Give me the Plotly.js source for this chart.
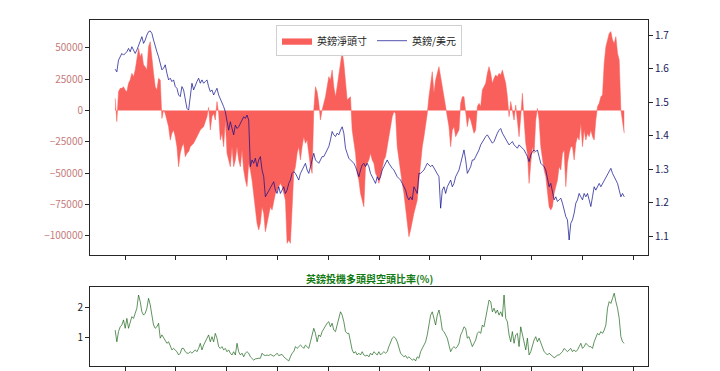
<!DOCTYPE html>
<html>
<head>
<meta charset="utf-8">
<script src="https://cdn.plot.ly/plotly-3.0.1.min.js"></script>
<style>html,body{margin:0;padding:0;background:#fff;}#chart{width:720px;height:371px;}</style>
</head>
<body>
<div id="chart"></div>
<script>
// Sampling of the series: one reading about every 12 days, from late Oct 2013 to Oct 2023
const startDate = '2013-10-21';
const stepDays = 12;

// GBP speculative net position (contracts)
const netPosition = [
  9700, -8900, 15000, 17700, 17700, 19000, 16400, 15000, 21700, 24400,
  29700, 27000, 32300, 40300, 49600, 43000, 45700, 36300, 35000, 32300,
  51000, 55000, 40300, 29700, 19000, 16400, 25700, 24400, -6300, 400,
  -2300, -7600, -12900, -23600, -18200, -15600, -20900, -28900, -44900, -34200,
  -28900, -26200, -36900, -34200, -32900, -28900, -27600, -26200, -23600, -20900,
  -18200, -15600, -14200, -12900, -8900, -4900, 2500, -15600, -4900, -2300,
  -7600, 7100, -2300, -23600, -18200, -28900, -7600, -34200, -39500, -44900,
  -28900, -44900, -39500, -28900, -39500, -44900, -31500, -47500, -55500, -60800,
  -42200, -47500, -55500, -66200, -76800, -90100, -95400, -90100, -76800, -82100,
  -96800, -90100, -84800, -76800, -79500, -71500, -66200, -63500, -60800, -58200,
  -60800, -66200, -71500, -106100, -103400, -106100, -76800, -50200, -44900, -34200,
  -28900, -39500, -28900, -20900, -26200, -23600, -34200, -44900, -50200, 400,
  19000, 15000, 5700, -7600, 400, 5700, 11000, 19000, 27000, 24400,
  32300, 19000, 11000, 19000, 29700, 40300, 47000, 37700, 19000, 8400,
  9700, 11000, -15600, -26200, -34200, -50200, -55500, -66200, -71500, -76800,
  -44900, -42200, -39500, -34200, -39500, -42200, -50200, -52800, -58200, -52800,
  -44900, -39500, -36900, -28900, -18200, -10200, -4900, -900, -2300, -28900,
  -39500, -50200, -58200, -66200, -76800, -87400, -100800, -95400, -87400, -82100,
  -76800, -71500, -55500, -39500, -28900, -20900, -12900, -2300, 11000, 21700,
  31000, 13700, 24400, 29700, 35000, 27000, 19000, 8400, 400, -7600,
  -12900, -28900, -15600, -12900, -20900, -18200, -15600, 5700, 11000, 11000,
  400, -12900, -4900, -7600, -12900, -18200, -15600, 3100, 5700, 3100,
  16400, 19000, 21700, 29700, 35000, 29700, 21700, 25700, 28400, 27000,
  29700, 28400, 32300, 27000, 21700, 11000, -4900, 7100, -2300, -7600,
  4400, -7600, -20900, -4900, 13700, -7600, -26200, -34200, -58200, -42200,
  -28900, -34200, -7600, 1700, -7600, -28900, -39500, -47500, -52800, -66200,
  -76800, -79500, -76800, -66200, -60800, -55500, -44900, -47500, -34200, -31500,
  -60800, -42200, -34200, -28900, -28900, -39500, -26200, -20900, -23600, -10200,
  -28900, -15600, -23600, -18200, -20900, -15600, -20900, -23600, -7600, 3100,
  5700, 11000, 12400, 37700, 51000, 56300, 61600, 63000, 56300, 53600,
  59000, 45700, 40300, 400, -7600, -18200
];

// GBP/USD exchange rate
const gbpUsd = [
  1.598, 1.590, 1.625, 1.635, 1.645, 1.640, 1.645, 1.650, 1.660, 1.650,
  1.665, 1.655, 1.645, 1.655, 1.670, 1.680, 1.695, 1.675, 1.685, 1.700,
  1.710, 1.712, 1.705, 1.685, 1.665, 1.650, 1.635, 1.615, 1.596, 1.601,
  1.611, 1.586, 1.566, 1.571, 1.561, 1.566, 1.546, 1.541, 1.521, 1.516,
  1.546, 1.536, 1.506, 1.481, 1.476, 1.516, 1.556, 1.536, 1.551, 1.561,
  1.571, 1.556, 1.566, 1.556, 1.561, 1.566, 1.546, 1.531, 1.536, 1.521,
  1.531, 1.541, 1.521, 1.511, 1.501, 1.486, 1.471, 1.446, 1.416, 1.441,
  1.416, 1.402, 1.431, 1.421, 1.426, 1.436, 1.446, 1.456, 1.451, 1.461,
  1.446, 1.307, 1.327, 1.317, 1.332, 1.307, 1.327, 1.337, 1.297, 1.277,
  1.217, 1.227, 1.237, 1.247, 1.257, 1.262, 1.237, 1.227, 1.247, 1.227,
  1.237, 1.247, 1.227, 1.237, 1.257, 1.267, 1.287, 1.292, 1.287, 1.277,
  1.267, 1.287, 1.297, 1.307, 1.317, 1.297, 1.287, 1.307, 1.327, 1.347,
  1.327, 1.322, 1.317, 1.327, 1.337, 1.337, 1.347, 1.357, 1.367, 1.387,
  1.412, 1.402, 1.397, 1.407, 1.402, 1.416, 1.426, 1.407, 1.362, 1.347,
  1.332, 1.327, 1.322, 1.317, 1.307, 1.292, 1.277, 1.297, 1.312, 1.317,
  1.307, 1.317, 1.307, 1.287, 1.277, 1.267, 1.257, 1.277, 1.267, 1.277,
  1.297, 1.307, 1.317, 1.327, 1.317, 1.307, 1.302, 1.297, 1.287, 1.277,
  1.272, 1.267, 1.257, 1.247, 1.237, 1.217, 1.208, 1.217, 1.208, 1.247,
  1.237, 1.227, 1.287, 1.287, 1.292, 1.297, 1.307, 1.317, 1.312, 1.307,
  1.312, 1.302, 1.297, 1.287, 1.277, 1.183, 1.237, 1.247, 1.227, 1.247,
  1.257, 1.267, 1.247, 1.257, 1.277, 1.287, 1.297, 1.317, 1.337, 1.357,
  1.327, 1.287, 1.297, 1.307, 1.327, 1.327, 1.337, 1.347, 1.357, 1.372,
  1.382, 1.387, 1.397, 1.402, 1.392, 1.382, 1.377, 1.382, 1.397, 1.407,
  1.416, 1.421, 1.407, 1.397, 1.392, 1.382, 1.372, 1.377, 1.382, 1.372,
  1.367, 1.362, 1.372, 1.367, 1.362, 1.357, 1.347, 1.337, 1.322, 1.342,
  1.352, 1.357, 1.352, 1.357, 1.337, 1.317, 1.312, 1.307, 1.297, 1.267,
  1.247, 1.257, 1.237, 1.208, 1.217, 1.203, 1.208, 1.213, 1.198, 1.178,
  1.158, 1.148, 1.088, 1.138, 1.148, 1.168, 1.198, 1.208, 1.227, 1.217,
  1.208, 1.227, 1.217, 1.227, 1.208, 1.188, 1.217, 1.247, 1.237, 1.247,
  1.257, 1.247, 1.257, 1.267, 1.277, 1.287, 1.297, 1.302, 1.287, 1.277,
  1.267, 1.257, 1.237, 1.217, 1.227, 1.217
];

// Speculative long / short ratio
const longShortRatio = [
  1.24, 0.85, 1.19, 1.35, 1.41, 1.58, 1.30, 1.63, 1.30, 1.52,
  1.69, 1.63, 1.85, 1.97, 2.41, 2.19, 1.85, 1.74, 1.80, 1.97,
  2.30, 2.08, 1.74, 1.41, 1.30, 1.35, 1.47, 0.97, 1.08, 0.97,
  0.91, 0.80, 0.85, 0.69, 0.58, 0.63, 0.58, 0.52, 0.41, 0.47,
  0.63, 0.63, 0.52, 0.47, 0.47, 0.52, 0.47, 0.52, 0.58, 0.52,
  0.63, 0.80, 0.58, 0.74, 0.85, 0.97, 1.08, 0.85, 1.02, 0.85,
  1.13, 0.97, 0.69, 0.63, 0.69, 0.58, 0.63, 0.52, 0.58, 0.47,
  0.41, 0.52, 0.41, 0.80, 0.52, 0.41, 0.47, 0.35, 0.47, 0.52,
  0.47, 0.35, 0.30, 0.24, 0.28, 0.30, 0.30, 0.30, 0.47, 0.41,
  0.39, 0.41, 0.39, 0.43, 0.41, 0.37, 0.41, 0.47, 0.39, 0.41,
  0.43, 0.35, 0.30, 0.24, 0.21, 0.35, 0.47, 0.52, 0.69, 0.63,
  0.69, 0.74, 0.69, 0.63, 0.74, 0.69, 0.63, 0.85, 1.08, 1.30,
  1.13, 0.85, 1.08, 1.02, 1.19, 1.30, 1.41, 1.47, 1.52, 1.35,
  1.47, 1.24, 1.19, 1.41, 1.63, 1.85, 1.74, 1.52, 1.19, 1.13,
  1.13, 0.80, 0.58, 0.47, 0.52, 0.41, 0.47, 0.41, 0.52, 0.41,
  0.38, 0.41, 0.35, 0.47, 0.41, 0.52, 0.47, 0.41, 0.52, 0.41,
  0.47, 0.52, 0.47, 0.52, 0.69, 0.85, 0.97, 1.02, 0.97, 0.85,
  0.63, 0.47, 0.41, 0.35, 0.39, 0.30, 0.35, 0.30, 0.24, 0.28,
  0.21, 0.35, 0.30, 0.52, 0.63, 0.74, 0.85, 1.08, 1.41, 1.74,
  1.85, 1.63, 1.41, 1.74, 1.91, 1.63, 1.24, 1.19, 1.08, 0.97,
  0.74, 0.52, 0.63, 0.69, 0.63, 0.69, 0.80, 1.08, 1.19, 1.35,
  1.30, 0.97, 1.02, 0.85, 0.69, 0.80, 0.91, 1.13, 1.19, 1.13,
  1.41, 1.35, 1.63, 1.85, 2.24, 2.19, 1.85, 1.97, 1.80, 1.91,
  1.74, 1.85, 1.69, 2.41, 1.63, 1.52, 1.08, 0.85, 1.19, 0.80,
  1.08, 1.13, 0.69, 1.35, 1.08, 0.74, 0.58, 0.97, 0.41, 0.52,
  0.74, 0.91, 1.02, 0.85, 0.97, 0.80, 0.63, 0.52, 0.47, 0.41,
  0.47, 0.41, 0.35, 0.32, 0.35, 0.41, 0.41, 0.47, 0.52, 0.63,
  0.58, 0.52, 0.58, 0.63, 0.52, 0.58, 0.52, 0.58, 0.69, 0.80,
  0.63, 0.69, 0.80, 0.74, 0.69, 0.69, 0.63, 0.85, 1.02, 1.13,
  1.08, 1.19, 1.13, 1.24, 1.41, 1.97, 2.19, 2.13, 2.30, 2.47,
  2.19, 1.97, 1.63, 1.02, 0.85, 0.80
];

const leftTicks = [-100000, -75000, -50000, -25000, 0, 25000, 50000];
const rightTicks = [1.1, 1.2, 1.3, 1.4, 1.5, 1.6, 1.7];
const ratioTicks = [1, 2];
const yearTicks = ['2014-01-01','2015-01-01','2016-01-01','2017-01-01','2018-01-01','2019-01-01',
                   '2020-01-01','2021-01-01','2022-01-01','2023-01-01','2024-01-01'];

const names = { net: '英鎊淨頭寸', fx: '英鎊/美元', ratioTitle: '英鎊投機多頭與空頭比率(%)' };

const t0 = new Date(startDate + 'T00:00:00Z').getTime();
const dates = netPosition.map((_, i) => new Date(t0 + i * stepDays * 86400000).toISOString().slice(0, 10));

const FONT = '"Noto Sans CJK TC", "Noto Sans", sans-serif';
const frame = '#262626';

const traces = [
  {
    x: dates, y: netPosition, type: 'scatter', mode: 'lines', name: names.net,
    fill: 'tozeroy', fillcolor: '#f9605b', line: { color: '#f9605b', width: 0.5 },
    xaxis: 'x', yaxis: 'y', hoverinfo: 'x+y'
  },
  {
    x: dates, y: gbpUsd, type: 'scatter', mode: 'lines', name: names.fx,
    line: { color: 'rgba(10,10,140,0.78)', width: 0.9 },
    xaxis: 'x', yaxis: 'y2'
  },
  {
    x: dates, y: longShortRatio, type: 'scatter', mode: 'lines', name: names.ratioTitle,
    line: { color: 'rgba(20,95,20,0.75)', width: 0.9 },
    xaxis: 'x2', yaxis: 'y3', showlegend: false
  }
];

const xCommon = {
  type: 'date', range: ['2013-04-23', '2024-04-17'],
  tickmode: 'array', tickvals: yearTicks, showticklabels: false,
  ticks: 'outside', ticklen: 4, tickcolor: frame, tickwidth: 1,
  showline: true, linecolor: frame, linewidth: 1, mirror: true,
  showgrid: false, zeroline: false
};

const layout = {
  width: 720, height: 371,
  margin: { l: 90, r: 72, t: 20, b: 5 },
  paper_bgcolor: '#ffffff', plot_bgcolor: '#ffffff',
  font: { family: FONT, size: 10, color: '#333' },
  showlegend: true,
  legend: {
    orientation: 'h', x: 0.5, xanchor: 'center', y: 0.985, yanchor: 'top',
    bgcolor: 'rgba(255,255,255,0.9)', bordercolor: '#d0d0d0', borderwidth: 1,
    font: { family: FONT, size: 10, color: '#222' }, itemwidth: 30
  },
  xaxis: Object.assign({}, xCommon, { domain: [0, 1], anchor: 'y' }),
  xaxis2: Object.assign({}, xCommon, { domain: [0, 1], anchor: 'y3' }),
  yaxis: {
    domain: [0.3208, 1], range: [-115415, 72284],
    tickmode: 'array', tickvals: leftTicks, tickformat: 'd',
    tickfont: { family: FONT, size: 10, color: '#c47b7b' },
    ticks: 'outside', ticklen: 4, tickcolor: frame,
    showline: true, linecolor: frame, linewidth: 1,
    showgrid: false, zeroline: false
  },
  yaxis2: {
    overlaying: 'y', side: 'right', anchor: 'x', range: [1.0433, 1.7448],
    tickmode: 'array', tickvals: rightTicks, tickformat: '.1f',
    tickfont: { family: FONT, size: 10, color: '#20205a' },
    ticks: 'outside', ticklen: 4, tickcolor: frame,
    showline: true, linecolor: frame, linewidth: 1,
    showgrid: false, zeroline: false
  },
  yaxis3: {
    domain: [0, 0.2283], anchor: 'x2', range: [0.043, 2.677],
    tickmode: 'array', tickvals: ratioTicks,
    tickfont: { family: FONT, size: 10, color: '#222' },
    ticks: 'outside', ticklen: 4, tickcolor: frame,
    showline: true, linecolor: frame, linewidth: 1, mirror: true,
    showgrid: false, zeroline: false
  },
  annotations: [{
    text: '<b>' + names.ratioTitle + '</b>', xref: 'paper', yref: 'paper',
    x: 0.5, y: 0.2543, xanchor: 'center', yanchor: 'middle', showarrow: false,
    font: { family: FONT, size: 10, color: '#127a12' }
  }]
};

Plotly.newPlot('chart', traces, layout, { displayModeBar: false, staticPlot: true });
</script>
</body>
</html>
